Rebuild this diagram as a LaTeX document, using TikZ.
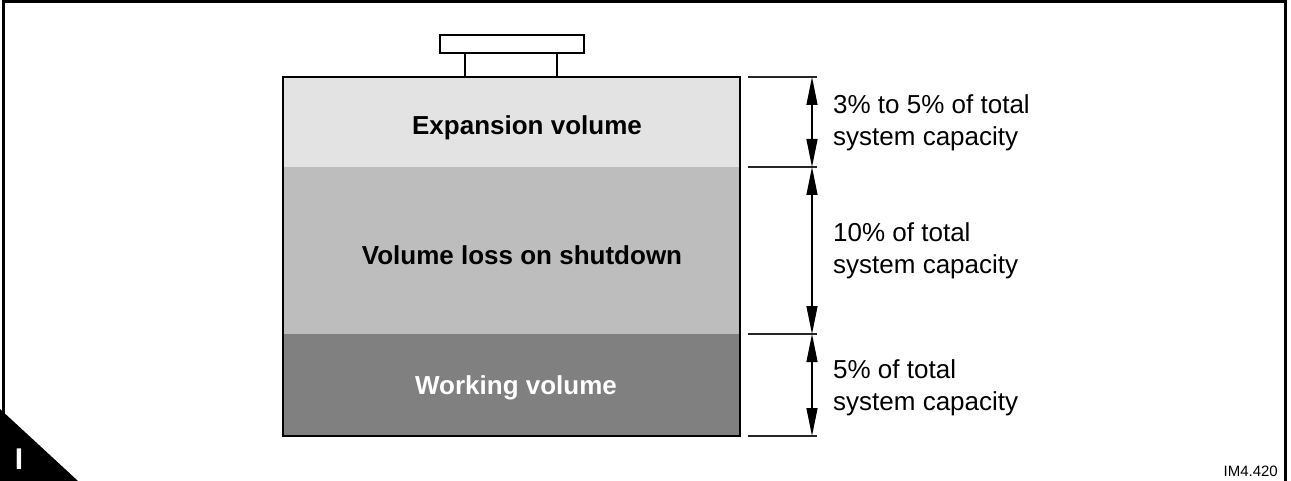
\documentclass[tikz,border=0pt]{standalone}
\usepackage{fontspec}
\setmainfont{Liberation Sans}
\usetikzlibrary{arrows.meta}
\definecolor{expc}{HTML}{E3E3E3}
\definecolor{lossc}{HTML}{BDBDBD}
\definecolor{workc}{HTML}{808080}
\tikzset{
  frameline/.style={line width=3pt},
  tankline/.style={line width=2.5pt},
  capline/.style={line width=2pt},
  tickline/.style={line width=1.3pt, black!85},
  dimarrow/.style={line width=1.3pt, {Triangle[length=28pt,width=11pt]}-{Triangle[length=28pt,width=11pt]}},
  boldlabel/.style={font=\fontsize{26}{30}\selectfont\bfseries, inner sep=0pt},
  sidelabel/.style={font=\fontsize{26}{32}\selectfont, align=left, anchor=base west, inner sep=0pt},
}
\begin{document}
\begin{tikzpicture}[x=1pt,y=-1pt]
\useasboundingbox (0,0) rectangle (1291,481);
% frame
\draw[frameline] (3,481) -- (3,1.5) -- (1285,1.5) -- (1285,481);
% corner triangle
\fill[black] (0,409) -- (78,481) -- (0,481) -- cycle;
\node[text=white, font=\fontsize{30}{30}\selectfont\bfseries, inner sep=0pt] (corner) at (19,459) {I};
% tank sections
\fill[expc] (283,77) rectangle (740,167);
\fill[lossc] (283,167) rectangle (740,334);
\fill[workc] (283,334) rectangle (740,436);
\draw[tankline] (283,77) rectangle (740,436);
% cap
\draw[capline] (465,77) -- (465,53) (557,77) -- (557,53);
\draw[capline, fill=white] (440,35) rectangle (584,53);
% labels in tank
\node[boldlabel] (exp) at (527,128) {Expansion volume};
\node[boldlabel] (loss) at (522,255) {Volume loss on shutdown};
\node[boldlabel, text=white] (work) at (516,388) {Working volume};
% dimension ticks
\coordinate (t0) at (812,77);
\coordinate (t1) at (812,167);
\coordinate (t2) at (812,334);
\coordinate (t3) at (812,436);
\foreach \c in {t0,t1,t2,t3}{
  \draw[tickline] ([xshift=-64pt]\c) -- ([xshift=5pt]\c);
}
\draw[dimarrow] (t0) -- (t1);
\draw[dimarrow] (t1) -- (t2);
\draw[dimarrow] (t2) -- (t3);
% side labels
\node[sidelabel] (l1) at (833,146) {3\% to 5\% of total\\system capacity};
\node[sidelabel] (l2) at (833,273) {10\% of total\\system capacity};
\node[sidelabel] (l3) at (833,410) {5\% of total\\system capacity};
\node[font=\fontsize{15}{15}\selectfont, anchor=base east, inner sep=0pt] (code) at (1278,476) {IM4.420};
\end{tikzpicture}
\end{document}
